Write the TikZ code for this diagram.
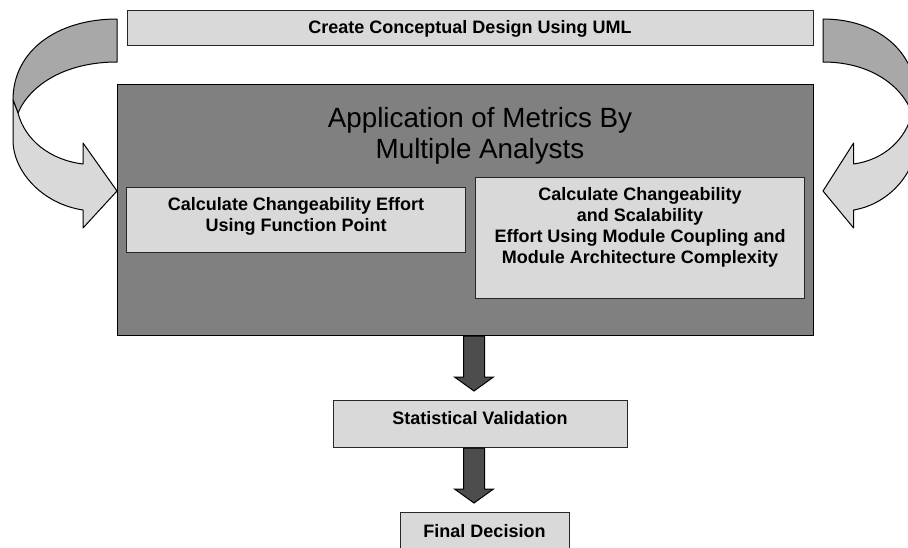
\documentclass[tikz,border=0pt]{standalone}
\usepackage{fontspec}
\setmainfont{Liberation Sans}
\usetikzlibrary{calc}

\definecolor{boxgray}{HTML}{D9D9D9}
\definecolor{panelgray}{HTML}{808080}
\definecolor{bandback}{HTML}{A8A8A8}
\definecolor{bandfront}{HTML}{D9D9D9}
\definecolor{blockdark}{HTML}{4D4D4D}

% one curved feedback arrow: a darker back band and a lighter front band with its head
\newcommand\curvedfeedbackarrow{%
  \filldraw[bandline, fill=bandback]
    (117,19) .. controls (58,19) and (13,50) .. (13,100)
    -- (18,113) .. controls (30,85) and (65,62) .. (117,62) -- cycle;
  \filldraw[bandline, fill=bandfront]
    (13,100) -- (13,140) .. controls (13,172) and (43,204) .. (83,210)
    -- (83,228) -- (117,191) -- (83,143) -- (83,164)
    .. controls (50,160) and (25,140) .. (18,113) -- cycle;
}

% straight block arrow from a start point down to its tip
\newcommand\blockarrow[2]{%
  \filldraw[blockline]
    ($(#1)+(-10.5,0)$) -- ($(#2)+(-10.5,-14)$) -- ($(#2)+(-19.5,-14)$)
    -- (#2) -- ($(#2)+(19.5,-14)$) -- ($(#2)+(10.5,-14)$)
    -- ($(#1)+(10.5,0)$) -- cycle;
}

\begin{document}
\begin{tikzpicture}[x=1pt,y=-1pt,
  bandline/.style={draw=black, line width=1pt, line join=round},
  blockline/.style={draw=black, fill=blockdark, line width=1pt},
  lightbox/.style={draw=black!85, line width=1.2pt, fill=boxgray,
    inner sep=0pt, anchor=north west},
  panel/.style={draw=black, line width=1pt, fill=panelgray,
    inner sep=0pt, anchor=north west},
  boldtext/.style={inner sep=0pt, align=center,
    font=\fontsize{18}{21}\selectfont\bfseries},
  titletext/.style={inner sep=0pt, align=center,
    font=\fontsize{27.8}{31}\selectfont}]

\useasboundingbox (0,0) rectangle (908,547);
\clip (0,0) rectangle (908,547);
\fill[white] (0,0) rectangle (908,547);

% top step
\node[lightbox, minimum width=686pt, minimum height=35pt] (design) at (127,10) {};
\node[boldtext, anchor=base] (designtext) at (470,33) {Create Conceptual Design Using UML};

% metrics panel with its two calculations
\node[panel, minimum width=696pt, minimum height=251pt] (metrics) at (117,84) {};
\node[titletext, anchor=north] (metricstitle) at (480,107)
  {Application of Metrics By\\Multiple Analysts};

\node[lightbox, minimum width=339pt, minimum height=65pt] (fp) at (126,187) {};
\node[boldtext, anchor=north] (fptext) at (296,197)
  {Calculate Changeability Effort\\Using Function Point};

\node[lightbox, minimum width=329pt, minimum height=121pt] (mc) at (475,177) {};
\node[boldtext, anchor=north] (mctext) at (640,187)
  {Calculate Changeability\\and Scalability\\Effort Using Module Coupling and\\Module Architecture Complexity};

% curved feedback arrows on both sides
\curvedfeedbackarrow
\begin{scope}[shift={(823,0)}, xscale=-0.9, shift={(-117,0)}]
  \curvedfeedbackarrow
\end{scope}

% validation and decision
\node[lightbox, minimum width=294pt, minimum height=47pt] (valid) at (333,400) {};
\node[boldtext, anchor=base] (validtext) at (480,424) {Statistical Validation};

\node[lightbox, minimum width=169pt, minimum height=45pt] (final) at (400,512) {};
\node[boldtext, anchor=base] (finaltext) at (484.5,537) {Final Decision};

% downward block arrows
\coordinate (tip1) at (474,391);
\coordinate (start1) at (metrics.south -| tip1);
\blockarrow{start1}{tip1}
\coordinate (tip2) at (474,503);
\coordinate (start2) at (valid.south -| tip2);
\blockarrow{start2}{tip2}

\end{tikzpicture}
\end{document}
